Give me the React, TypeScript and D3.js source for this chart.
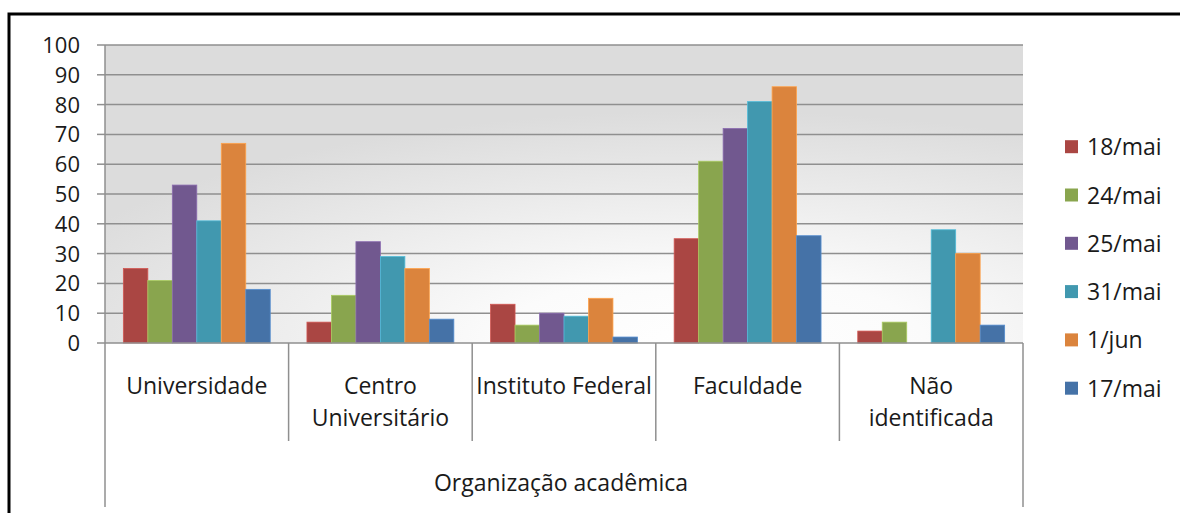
import React, { useRef, useEffect } from 'react';
import * as d3 from 'd3';

const categories = ['Universidade', 'Centro Universitário', 'Instituto Federal', 'Faculdade', 'Não identificada'];
const categoryLines = [['Universidade'], ['Centro', 'Universitário'], ['Instituto Federal'], ['Faculdade'], ['Não', 'identificada']];
const seriesNames = ['18/mai', '24/mai', '25/mai', '31/mai', '1/jun', '17/mai'];
const seriesColors = ['#AA4643', '#89A54E', '#71588F', '#4198AF', '#DB843D', '#4572A7'];

const s18mai = [25, 7, 13, 35, 4];
const s24mai = [21, 16, 6, 61, 7];
const s25mai = [53, 34, 10, 72, 0];
const s31mai = [41, 29, 9, 81, 38];
const s1jun = [67, 25, 15, 86, 30];
const s17mai = [18, 8, 2, 36, 6];
const seriesValues = [s18mai, s24mai, s25mai, s31mai, s1jun, s17mai];

const yTicks = [0, 10, 20, 30, 40, 50, 60, 70, 80, 90, 100];
const axisTitle = 'Organização acadêmica';

const App = () => {
  const svgRef = useRef(null);

  useEffect(() => {
    const svg = d3.select(svgRef.current);
    svg.selectAll('*').remove();

    const width = 1180;
    const height = 513;
    const left = 105, right = 1023, top = 45, bottom = 343;
    const font = "'Open Sans', sans-serif";
    const textColor = '#1a1a1a';
    const gridColor = '#8f8f8f';

    // outer chart border
    svg.append('rect')
      .attr('x', 9).attr('y', 14)
      .attr('width', width + 20).attr('height', height + 20)
      .attr('fill', 'white')
      .attr('stroke', '#000').attr('stroke-width', 3);

    // plot area gradient
    const defs = svg.append('defs');
    const grad = defs.append('radialGradient')
      .attr('id', 'plotBg')
      .attr('cx', 0.66).attr('cy', 1.0).attr('r', 0.78)
      .attr('fx', 0.66).attr('fy', 1.0);
    grad.append('stop').attr('offset', '0%').attr('stop-color', '#ffffff');
    grad.append('stop').attr('offset', '30%').attr('stop-color', '#fbfbfb');
    grad.append('stop').attr('offset', '100%').attr('stop-color', '#dcdcdc');

    const y = d3.scaleLinear().domain([0, 100]).range([bottom, top]);
    const x0 = d3.scaleBand().domain(categories).range([left, right]).padding(0);
    const gap = x0.bandwidth() * 1.5 / 7.5 / 2;
    const x1 = d3.scaleBand().domain(seriesNames).range([gap, x0.bandwidth() - gap]).padding(0);

    svg.append('rect')
      .attr('x', left).attr('y', top)
      .attr('width', right - left).attr('height', bottom - top)
      .attr('fill', 'url(#plotBg)');

    // gridlines
    svg.append('g')
      .selectAll('line')
      .data(yTicks.filter(d => d > 0))
      .join('line')
      .attr('x1', left).attr('x2', right)
      .attr('y1', d => y(d)).attr('y2', d => y(d))
      .attr('stroke', gridColor).attr('stroke-width', 1.5);

    // bars
    const groups = svg.append('g')
      .selectAll('g')
      .data(categories)
      .join('g')
      .attr('transform', d => `translate(${x0(d)},0)`);

    groups.selectAll('rect')
      .data((d, i) => seriesNames.map((s, j) => ({ s, j, v: seriesValues[j][i] })))
      .join('rect')
      .filter(d => d.v > 0)
      .attr('x', d => x1(d.s))
      .attr('y', d => y(d.v))
      .attr('width', x1.bandwidth())
      .attr('height', d => y(0) - y(d.v))
      .attr('fill', d => seriesColors[d.j])
      .attr('stroke', d => d3.color(seriesColors[d.j]).brighter(0.6))
      .attr('stroke-width', 0.8);

    // y axis
    const yAxis = svg.append('g');
    yAxis.append('line')
      .attr('x1', left).attr('x2', left).attr('y1', top).attr('y2', bottom)
      .attr('stroke', gridColor).attr('stroke-width', 1.5);
    yAxis.selectAll('line.tick')
      .data(yTicks)
      .join('line')
      .attr('class', 'tick')
      .attr('x1', left - 8).attr('x2', left)
      .attr('y1', d => y(d)).attr('y2', d => y(d))
      .attr('stroke', gridColor).attr('stroke-width', 1.5);
    yAxis.selectAll('text')
      .data(yTicks)
      .join('text')
      .attr('x', 80).attr('y', d => y(d) + 8)
      .attr('text-anchor', 'end')
      .attr('font-family', font).attr('font-size', 22)
      .attr('fill', textColor)
      .text(d => d);

    // x axis
    const xAxis = svg.append('g');
    xAxis.append('line')
      .attr('x1', left).attr('x2', right).attr('y1', bottom).attr('y2', bottom)
      .attr('stroke', gridColor).attr('stroke-width', 1.5);
    const seps = [left, ...categories.map(c => x0(c) + x0.bandwidth())];
    xAxis.selectAll('line.sep')
      .data(seps)
      .join('line')
      .attr('class', 'sep')
      .attr('x1', d => d).attr('x2', d => d)
      .attr('y1', bottom)
      .attr('y2', (d, i) => (i === 0 || i === seps.length - 1 ? 507 : 441))
      .attr('stroke', gridColor).attr('stroke-width', 1.5);

    const labels = xAxis.selectAll('text.cat')
      .data(categories)
      .join('text')
      .attr('class', 'cat')
      .attr('x', d => x0(d) + x0.bandwidth() / 2)
      .attr('y', 394)
      .attr('text-anchor', 'middle')
      .attr('font-family', font).attr('font-size', 23)
      .attr('fill', textColor);
    labels.selectAll('tspan')
      .data((d, i) => categoryLines[i])
      .join('tspan')
      .attr('x', function () { return d3.select(this.parentNode).attr('x'); })
      .attr('dy', (d, i) => (i === 0 ? 0 : 32))
      .text(d => d);

    xAxis.append('text')
      .attr('x', (left + right) / 2 - 3)
      .attr('y', 491)
      .attr('text-anchor', 'middle')
      .attr('font-family', font).attr('font-size', 23)
      .attr('fill', textColor)
      .text(axisTitle);

    // legend
    const legend = svg.append('g')
      .selectAll('g')
      .data(seriesNames)
      .join('g')
      .attr('transform', (d, i) => `translate(1065,${146.7 + i * 48.3})`);
    legend.append('rect')
      .attr('x', 0).attr('y', -6.5)
      .attr('width', 13).attr('height', 13)
      .attr('fill', (d, i) => seriesColors[i]);
    legend.append('text')
      .attr('x', 22).attr('y', 8.5)
      .attr('font-family', font).attr('font-size', 23)
      .attr('fill', textColor)
      .text(d => d);
  }, []);

  return (
    <svg ref={svgRef} width={1180} height={513}
      style={{ position: 'absolute', left: 0, top: 0, display: 'block' }} />
  );
};

export default App;
